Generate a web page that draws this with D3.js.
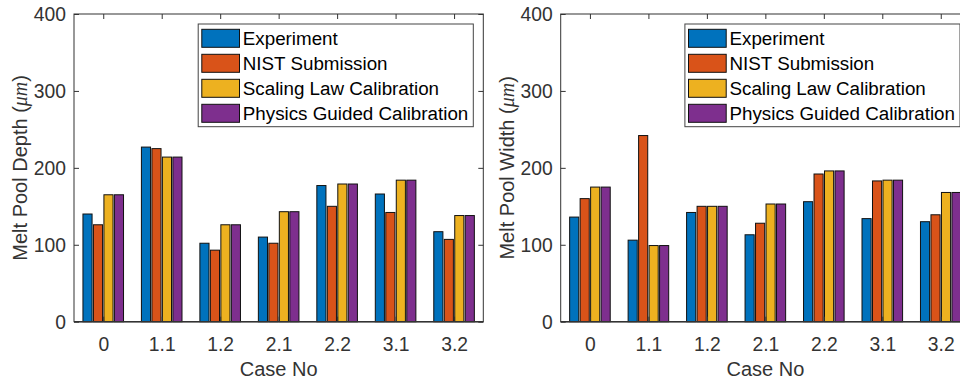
<!DOCTYPE html>
<html>
<head>
<meta charset="utf-8">
<script src="https://cdn.jsdelivr.net/npm/d3@7/dist/d3.min.js"></script>
<style>
  body { margin: 0; background: #fff; }
  svg { display: block; font-family: "Liberation Sans", Arial, Helvetica, sans-serif; }
</style>
</head>
<body>
<svg id="chart" width="960" height="383"></svg>
<script>
// categories and series
const cases = ['0', '1.1', '1.2', '2.1', '2.2', '3.1', '3.2'];
const seriesNames = ['Experiment', 'NIST Submission', 'Scaling Law Calibration', 'Physics Guided Calibration'];
const seriesColors = ['#0072BD', '#D95319', '#EDB120', '#7E2F8E'];
const yTicks = [0, 100, 200, 300, 400];

// melt pool depth (um)
const depthExperiment = [140, 227, 102, 110, 177, 166, 117];
const depthNist       = [126, 225, 93, 102, 150, 142, 107];
const depthScaling    = [165, 214, 126, 143, 179, 184, 138];
const depthPhysics    = [165, 214, 126, 143, 179, 184, 138];

// melt pool width (um)
const widthExperiment = [136, 106, 142, 113, 156, 134, 130];
const widthNist       = [160, 242, 150, 128, 192, 183, 139];
const widthScaling    = [175, 99, 150, 153, 196, 184, 168];
const widthPhysics    = [175, 99, 150, 153, 196, 184, 168];

const svg = d3.select('#chart');
const axisColor = '#333';

// axes box geometry (the right one runs past the window edge, as in the figure)
const plotTop = 14, plotBottom = 321.7, plotWidth = 409.3;

const drawPanel = (left, series, yLabel) => {
  const g = svg.append('g');

  const x = d3.scaleLinear().domain([0.5, cases.length + 0.5]).range([left, left + plotWidth]);
  const y = d3.scaleLinear().domain([0, 400]).range([plotBottom, plotTop]);
  const x1 = d3.scaleBand().domain(seriesNames).range([-0.347, 0.347]).paddingInner(0.13);
  const bw = x(x1.bandwidth()) - x(0);

  // bars
  series.forEach((vals, s) => {
    g.append('g').selectAll('rect').data(vals).enter()
      .append('rect')
      .attr('x', (d, i) => x(i + 1 + x1(seriesNames[s])))
      .attr('y', d => y(d))
      .attr('width', bw)
      .attr('height', d => y(0) - y(d))
      .attr('fill', seriesColors[s])
      .attr('stroke', '#111')
      .attr('stroke-width', 1);
  });

  // box
  g.append('rect')
    .attr('x', x(0.5)).attr('y', plotTop)
    .attr('width', plotWidth).attr('height', plotBottom - plotTop)
    .attr('fill', 'none').attr('stroke', axisColor).attr('stroke-width', 1);
  g.append('line')
    .attr('x1', x(0.5)).attr('x2', x(cases.length + 0.5))
    .attr('y1', y(0)).attr('y2', y(0))
    .attr('stroke', axisColor).attr('stroke-width', 1.6);

  // x axis (ticks inward, top mirrored)
  const xAxis = d3.axisBottom(x)
    .tickValues(d3.range(1, cases.length + 1))
    .tickFormat(d => cases[d - 1])
    .tickSizeInner(-5).tickSizeOuter(0).tickPadding(16);
  const gx = g.append('g').attr('transform', `translate(0,${plotBottom})`).call(xAxis);
  const xTop = d3.axisTop(x).tickValues(d3.range(1, cases.length + 1))
    .tickSizeInner(-5).tickSizeOuter(0).tickFormat('');
  const gxt = g.append('g').attr('transform', `translate(0,${plotTop})`).call(xTop);

  // y axis (ticks inward, right mirrored)
  const yAxis = d3.axisLeft(y).tickValues(yTicks).tickSizeInner(-5).tickSizeOuter(0).tickPadding(8);
  const gy = g.append('g').attr('transform', `translate(${x(0.5)},0)`).call(yAxis);
  const yRight = d3.axisRight(y).tickValues(yTicks).tickSizeInner(-5).tickSizeOuter(0).tickFormat('');
  const gyr = g.append('g').attr('transform', `translate(${x(cases.length + 0.5)},0)`).call(yRight);

  [gx, gxt, gy, gyr].forEach(a => {
    a.select('.domain').remove();
    a.selectAll('line').attr('stroke', axisColor);
    a.selectAll('text').attr('fill', axisColor).style('font-size', '19.3px')
      .style('font-family', '"Liberation Sans", Arial, sans-serif');
  });
  gy.selectAll('text').attr('dy', '0.36em');

  // axis titles
  g.append('text')
    .attr('x', (x(0.5) + x(cases.length + 0.5)) / 2)
    .attr('y', 376)
    .attr('text-anchor', 'middle')
    .attr('fill', axisColor)
    .style('font-size', '20px')
    .text('Case No');

  const yl = g.append('text')
    .attr('transform', `translate(${left - 47},${(plotTop + plotBottom) / 2}) rotate(-90)`)
    .attr('text-anchor', 'middle')
    .attr('fill', axisColor)
    .style('font-size', '20px');
  yl.append('tspan').text(yLabel + ' (');
  yl.append('tspan').style('font-family', '"Liberation Serif", "DejaVu Serif", serif')
    .style('font-style', 'italic').text('\u03bcm');
  yl.append('tspan').text(')');

  // legend, anchored to the top right of the axes
  const lg = g.append('g');
  const legRight = x(cases.length + 0.5) - 10;
  const legTop = 24, rowH = 25;
  const texts = [];
  seriesNames.forEach((name, s) => {
    texts.push(lg.append('text')
      .attr('y', legTop + 5.3 + s * rowH + 9 + 6.7)
      .attr('fill', '#000')
      .style('font-size', '18.8px')
      .text(name));
  });
  const maxLen = d3.max(texts, t => t.node().getComputedTextLength());
  const legWidth = 44.6 + maxLen + 5;
  const legLeft = legRight - legWidth;
  lg.insert('rect', ':first-child')
    .attr('x', legLeft).attr('y', legTop)
    .attr('width', legWidth).attr('height', 102.7)
    .attr('fill', '#fff').attr('stroke', '#444').attr('stroke-width', 1);
  texts.forEach(t => t.attr('x', legLeft + 44.6));
  seriesNames.forEach((name, s) => {
    lg.append('rect')
      .attr('x', legLeft + 3.6).attr('y', legTop + 5.3 + s * rowH)
      .attr('width', 37.7).attr('height', 18)
      .attr('fill', seriesColors[s]).attr('stroke', '#111').attr('stroke-width', 1);
  });
};

drawPanel(74, [depthExperiment, depthNist, depthScaling, depthPhysics], 'Melt Pool Depth');
drawPanel(560.7, [widthExperiment, widthNist, widthScaling, widthPhysics], 'Melt Pool Width');
</script>
</body>
</html>
